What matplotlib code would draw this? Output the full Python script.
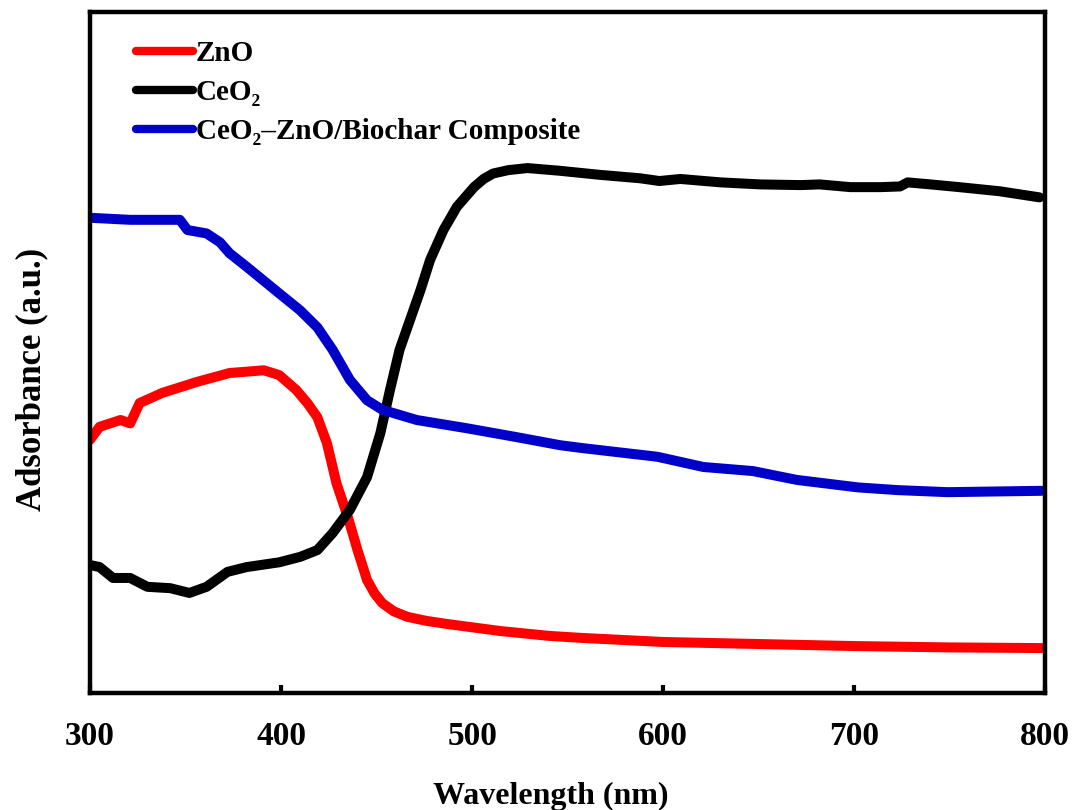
import matplotlib
matplotlib.use("Agg")
import matplotlib.pyplot as plt

# UV-Vis absorbance spectra (wavelength in nm, absorbance in arbitrary units)
zno_wl = [300, 305, 316, 321, 326, 338, 356, 373, 391, 399, 408, 414, 419, 424,
          429, 435, 440, 445, 449, 453, 459, 466, 476, 488, 515, 540, 557, 600,
          650, 700, 750, 800]
zno_abs = [0.372, 0.391, 0.401, 0.396, 0.426, 0.441, 0.457, 0.470, 0.474, 0.467,
           0.445, 0.425, 0.405, 0.367, 0.308, 0.258, 0.210, 0.166, 0.146, 0.132,
           0.120, 0.112, 0.106, 0.101, 0.091, 0.084, 0.081, 0.075, 0.072, 0.069,
           0.067, 0.066]

ceo2_wl = [300, 305, 312, 321, 330, 342, 352, 361, 372, 382, 399, 410, 419, 427,
           436, 445, 452, 457, 462, 468, 473, 478, 485, 492, 501, 506, 511, 519,
           529, 546, 567, 588, 598, 609, 630, 651, 672, 682, 698, 714, 724, 728,
           740, 755, 776, 797]
ceo2_abs = [0.188, 0.185, 0.169, 0.169, 0.156, 0.154, 0.147, 0.156, 0.178, 0.185,
            0.192, 0.200, 0.210, 0.235, 0.269, 0.317, 0.382, 0.445, 0.504, 0.552,
            0.592, 0.636, 0.680, 0.714, 0.743, 0.755, 0.763, 0.768, 0.771, 0.767,
            0.761, 0.756, 0.752, 0.755, 0.750, 0.747, 0.746, 0.747, 0.743, 0.743,
            0.744, 0.750, 0.747, 0.743, 0.737, 0.728]

comp_wl = [300, 321, 347, 351, 361, 368, 373, 382, 399, 410, 419, 427, 436, 445,
           453, 471, 497, 523, 546, 557, 597, 621, 647, 670, 702, 723, 749, 798]
comp_abs = [0.698, 0.695, 0.695, 0.680, 0.675, 0.662, 0.646, 0.626, 0.587, 0.562,
            0.537, 0.504, 0.460, 0.430, 0.416, 0.401, 0.389, 0.376, 0.364, 0.360,
            0.347, 0.332, 0.326, 0.313, 0.302, 0.298, 0.295, 0.297]

labels = ["ZnO", "CeO\u2082", "CeO\u2082\u2013ZnO/Biochar Composite"]
colors = ["#ff0000", "#000000", "#0000c8"]
x_ticks = [300, 400, 500, 600, 700, 800]

plt.rcParams["font.family"] = ["Liberation Serif", "DejaVu Serif"]
plt.rcParams["font.weight"] = "bold"

fig = plt.figure(figsize=(10.72, 8.10), dpi=100)
ax = fig.add_axes([0.084, 0.1444, 0.891, 0.8406])

series = [(zno_wl, zno_abs), (ceo2_wl, ceo2_abs), (comp_wl, comp_abs)]
for (wl, ab), lab, col in zip(series, labels, colors):
    ax.plot(wl, ab, color=col, lw=7.2, label=lab,
            solid_capstyle="round", solid_joinstyle="round")

ax.set_xlim(300, 800)
ax.set_ylim(0, 1)
ax.set_xticks(x_ticks)
ax.set_xticklabels([str(t) for t in x_ticks])
ax.set_yticks([])

for sp in ax.spines.values():
    sp.set_linewidth(3.2)

ax.tick_params(axis="x", direction="in", length=6, width=3, pad=20,
               labelsize=24)
for lbl in ax.get_xticklabels():
    lbl.set_fontweight("bold")

ax.set_xlabel("Wavelength (nm)", fontsize=23, fontweight="bold")
ax.xaxis.set_label_coords(0.482, -0.13)
ax.set_ylabel("Adsorbance (a.u.)", fontsize=25, fontweight="bold")
ax.yaxis.set_label_coords(-0.044, 0.46)

leg = ax.legend(loc="upper left", bbox_to_anchor=(0.030, 0.985), frameon=False,
                fontsize=21, handlelength=1.95, handletextpad=0.1,
                labelspacing=0.42, borderaxespad=0.2)
for t in leg.get_texts():
    t.set_fontweight("bold")
for h in leg.get_lines():
    h.set_linewidth(6)

fig.savefig("out.png", dpi=100)
